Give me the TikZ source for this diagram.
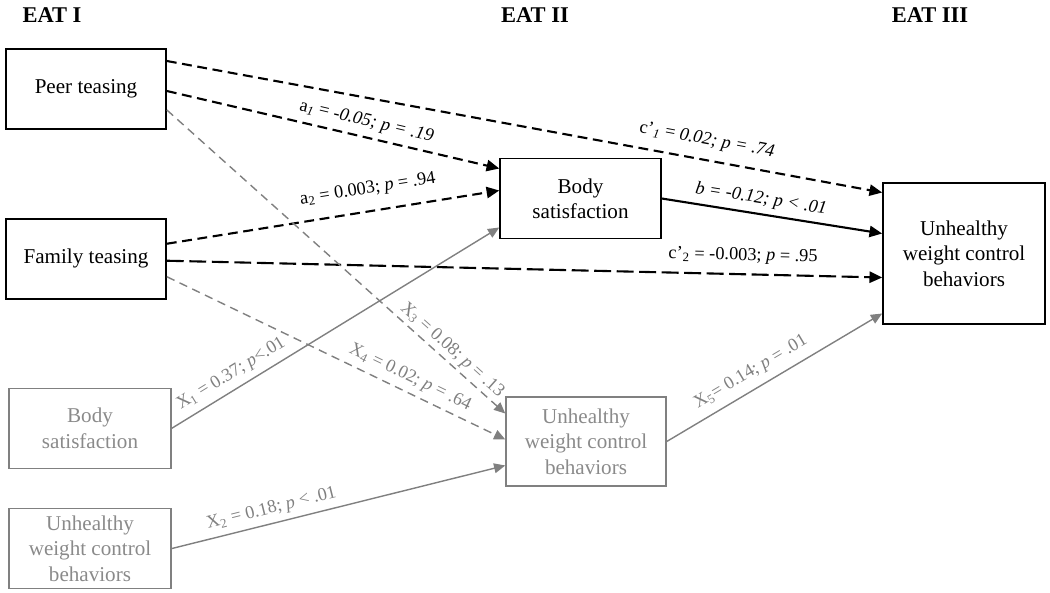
\documentclass[tikz,border=0pt]{standalone}
\usepackage{fontspec}
\setmainfont{Liberation Serif}
\usepackage{xcolor}
\usepackage{tikz}
\usetikzlibrary{arrows.meta, positioning, calc}
\definecolor{laggray}{RGB}{128,128,128}
\definecolor{lagtext}{RGB}{138,138,138}
\tikzstyle{wave} = [font=\fontsize{16}{19}\selectfont\bfseries]
\tikzstyle{construct} = [rectangle, minimum width=4cm, minimum height=2cm, inner sep=1pt, align=center, draw=black, line width=1.2pt, font=\fontsize{15}{18}\selectfont]
\tikzstyle{lagged} = [construct, draw=laggray, text=lagtext, line width=1pt, minimum width=4.05cm]
\tikzstyle{effect} = [line width=1.5pt, ->, >={Triangle[length=9pt,width=8pt]}]
\tikzstyle{nseffect} = [effect, dash pattern=on 7pt off 4pt]
\tikzstyle{longdash} = [effect, dash pattern=on 12pt off 4pt]
\tikzstyle{stability} = [line width=1pt, color=laggray, ->, >={Triangle[length=8pt,width=7pt]}]
\tikzstyle{graydash} = [stability, dash pattern=on 6pt off 4pt]
\tikzstyle{coef} = [font=\fontsize{13}{15}\selectfont, sloped, inner sep=2pt]

\begin{document}
\begin{tikzpicture}[x=0.025cm, y=-0.025cm]
    \useasboundingbox (0,0) rectangle (1050,592);

    % wave headers
    \node (eat1) [wave] at (52,15) {EAT I};
    \node (eat2) [wave] at (535,15) {EAT II};
    \node (eat3) [wave] at (930,15) {EAT III};

    % teasing at EAT I
    \node (peer) [construct] at (86,89) {Peer teasing};
    \node (family) [construct, below=2.2cm of peer] {Family teasing};

    % mediator and outcome
    \node (bodysat) [construct, minimum width=4.02cm] at (580.5,198.5) {Body\\satisfaction};
    \node (uwcb) [construct, minimum width=4.05cm, minimum height=3.52cm] at (964,253.5) {Unhealthy\\weight control\\behaviors};

    % lagged covariates
    \node (bodysatI) [lagged, below=2.2cm of family, xshift=0.1cm] {Body\\satisfaction};
    \node (uwcbI) [lagged, below=0.97cm of bodysatI] {Unhealthy\\weight control\\behaviors};
    \node (uwcbII) [lagged, minimum width=4cm, minimum height=2.22cm] at (586,441.5) {Unhealthy\\weight control\\behaviors};

    % main paths
    \draw [nseffect] ($(peer.east)+(0,-28)$) -- node[coef, pos=0.75, above=5.5pt] {c’\textsubscript{\textit{1}} = \textit{0.02; p = .74}} ($(uwcb.west)+(0,-61)$);
    \draw [nseffect] ($(peer.east)+(0,2)$) -- node[coef, pos=0.59, above=2.5pt] {a\textsubscript{\textit{1}} = \textit{-0.05; p = .19}} ($(bodysat.west)+(0,-30)$);
    \draw [nseffect] ($(family.east)+(0,-15)$) -- node[coef, pos=0.615, above=7pt] {a\textsubscript{2} = 0.003; \textit{p} = .94} ($(bodysat.west)+(0,-8)$);
    \draw [longdash] ($(family.east)+(0,2)$) -- node[coef, pos=0.805, above=4.5pt] {c’\textsubscript{2} = -0.003; \textit{p} = .95} ($(uwcb.west)+(0,24)$);
    \draw [effect] (bodysat.east) -- node[coef, pos=0.44, above=2pt] {\textit{b = -0.12; p < .01}} ($(uwcb.west)+(0,-20)$);

    % stability and cross-lagged paths
    \draw [graydash] ($(peer.east)+(0,21)$) -- node[coef, pos=0.82, above=0pt] {X\textsubscript{3} = 0.08; \textit{p} = .13} ($(uwcbII.west)+(0,-28)$);
    \draw [graydash] ($(family.east)+(0,18)$) -- node[coef, pos=0.70, above=2pt] {X\textsubscript{4} = 0.02; \textit{p} = .64} ($(uwcbII.west)+(0,-2)$);
    \draw [stability] (bodysatI.east) -- node[coef, pos=0.206, above=2.5pt] {X\textsubscript{1} = 0.37; \textit{p}<.01} ($(bodysat.west)+(0,29)$);
    \draw [stability] (uwcbI.east) -- node[coef, pos=0.31, above=2pt] {X\textsubscript{2} = 0.18; \textit{p} < .01} ($(uwcbII.west)+(0,24)$);
    \draw [stability] (uwcbII.east) -- node[coef, pos=0.43, above=3.5pt] {X\textsubscript{5}= 0.14; \textit{p} = .01} ($(uwcb.west)+(0,60)$);
\end{tikzpicture}
\end{document}
